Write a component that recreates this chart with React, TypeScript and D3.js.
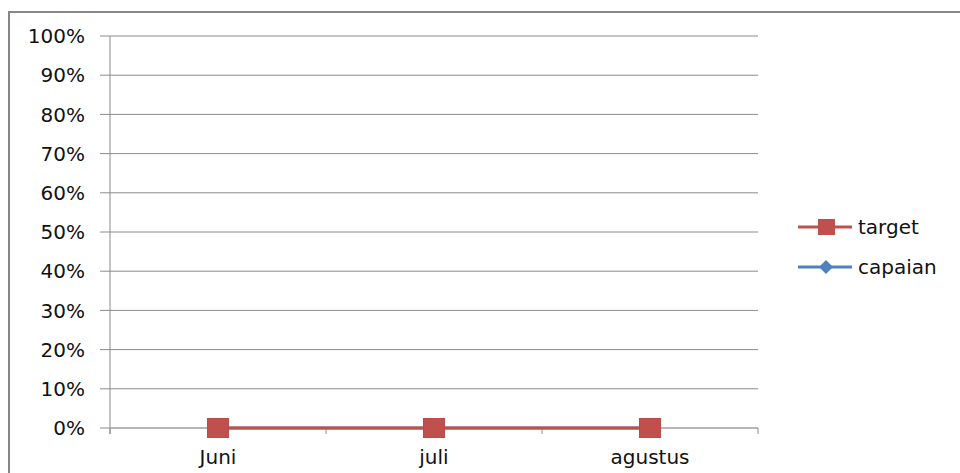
import React from "react";
import * as d3 from "d3";

const categories = ["Juni", "juli", "agustus"];
const targetValues = [0, 0, 0];
const capaianValues = [0, 0, 0];
const yTicks = [0, 0.1, 0.2, 0.3, 0.4, 0.5, 0.6, 0.7, 0.8, 0.9, 1.0];

const FONT = "'DejaVu Sans', sans-serif";
const FS = 20;

export default function App() {
  const W = 960, H = 473;
  const left = 110, right = 758, top = 36, bottom = 428;
  const x = d3.scaleBand().domain(categories).range([left, right]);
  const y = d3.scaleLinear().domain([0, 1]).range([bottom, top]);
  const fmt = d3.format(".0%");
  const cx = (c: string) => (x(c) as number) + x.bandwidth() / 2;
  const line = d3.line<number>().x((_, i) => cx(categories[i])).y((v) => y(v));
  const red = "#C0504D", blue = "#4F81BD";
  const diamond = (px: number, py: number, r: number) =>
    `M${px},${py - r}L${px + r},${py}L${px},${py + r}L${px - r},${py}Z`;

  return (
    <svg width={W} height={H} style={{ position: "absolute", left: 0, top: 0, background: "#fff" }}>
      <rect x={0} y={0} width={W} height={H} fill="#fff" />
      <line x1={8} y1={12} x2={W} y2={12} stroke="#868686" strokeWidth={2} />
      <line x1={9} y1={11} x2={9} y2={H} stroke="#868686" strokeWidth={2} />
      {yTicks.map((t) => (
        <g key={t}>
          <line x1={100} x2={right} y1={y(t)} y2={y(t)} stroke="#8c8c8c" strokeWidth={1} />
          <text x={85} y={y(t)} dy="0.36em" textAnchor="end" fontFamily={FONT} fontSize={FS} fill="#111">
            {fmt(t)}
          </text>
        </g>
      ))}
      <line x1={left} x2={left} y1={top} y2={bottom + 6} stroke="#8c8c8c" strokeWidth={1} />
      <line x1={left} x2={right} y1={bottom} y2={bottom} stroke="#b0b0b0" strokeWidth={1.5} />
      {[...categories.map((c) => x(c) as number), right].map((v, i) => (
        <line key={i} x1={v} x2={v} y1={bottom} y2={bottom + 6} stroke="#8c8c8c" strokeWidth={1} />
      ))}
      {categories.map((c) => (
        <text key={c} x={cx(c)} y={457} dy="0.36em" textAnchor="middle" fontFamily={FONT} fontSize={FS} fill="#111">
          {c}
        </text>
      ))}
      <path d={line(capaianValues) as string} fill="none" stroke={blue} strokeWidth={3} />
      {capaianValues.map((v, i) => (
        <path key={i} d={diamond(cx(categories[i]), y(v), 7)} fill={blue} />
      ))}
      <path d={line(targetValues) as string} fill="none" stroke={red} strokeWidth={3} />
      {targetValues.map((v, i) => (
        <rect key={i} x={cx(categories[i]) - 10.5} y={y(v) - 9.5} width={21} height={19} fill={red} stroke="#b94a47" strokeWidth={1} />
      ))}
      <g>
        <line x1={798} x2={852} y1={227} y2={227} stroke={red} strokeWidth={3} />
        <rect x={818} y={219} width={17} height={16} fill={red} />
        <text x={858} y={227} dy="0.36em" fontFamily={FONT} fontSize={FS} fill="#111">target</text>
        <line x1={798} x2={852} y1={267} y2={267} stroke={blue} strokeWidth={3} />
        <path d={diamond(826, 267, 7)} fill={blue} />
        <text x={858} y={267} dy="0.36em" fontFamily={FONT} fontSize={FS} fill="#111">capaian</text>
      </g>
    </svg>
  );
}
